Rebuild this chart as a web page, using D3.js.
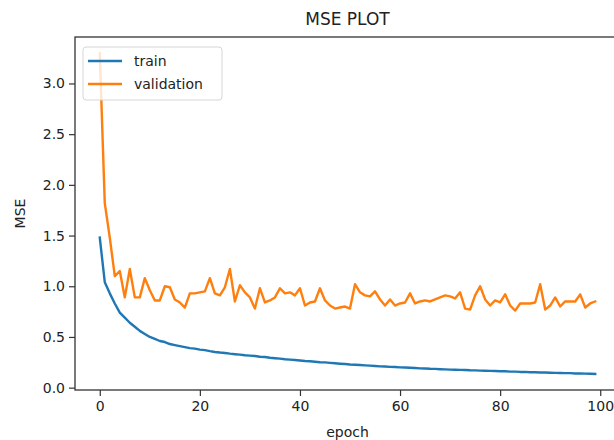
<!DOCTYPE html>
<html lang="en">
<head>
    <meta charset="UTF-8">
    <title>MSE PLOT</title>
    <style>
        body { margin: 0; background: #fff; }
        svg text { font-family: "DejaVu Sans", sans-serif; fill: #222; }
    </style>
</head>
<body>
    <div id="chart"></div>

    <script src="https://d3js.org/d3.v7.min.js"></script>
    <script>
        // Data
        const epochs = d3.range(100);

        const train = [
            1.48, 1.04, 0.93, 0.83, 0.74, 0.69, 0.64, 0.60, 0.56, 0.53,
            0.50, 0.48, 0.46, 0.45, 0.43, 0.42, 0.41, 0.40, 0.39, 0.385,
            0.375, 0.37, 0.36, 0.352, 0.346, 0.342, 0.335, 0.33, 0.326, 0.32,
            0.316, 0.312, 0.305, 0.302, 0.295, 0.29, 0.286, 0.28, 0.276, 0.272,
            0.268, 0.263, 0.26, 0.255, 0.251, 0.249, 0.244, 0.24, 0.236, 0.233,
            0.228, 0.226, 0.223, 0.22, 0.217, 0.214, 0.21, 0.209, 0.205, 0.204,
            0.20, 0.199, 0.196, 0.194, 0.19, 0.189, 0.186, 0.185, 0.182, 0.18,
            0.178, 0.177, 0.175, 0.174, 0.171, 0.17, 0.168, 0.167, 0.165, 0.164,
            0.162, 0.161, 0.158, 0.158, 0.155, 0.155, 0.152, 0.152, 0.15, 0.149,
            0.147, 0.146, 0.145, 0.143, 0.143, 0.14, 0.14, 0.138, 0.137, 0.135
        ];

        const validation = [
            3.30, 1.82, 1.48, 1.10, 1.15, 0.89, 1.17, 0.89, 0.89, 1.08,
            0.96, 0.86, 0.86, 1.00, 0.99, 0.87, 0.84, 0.79, 0.93, 0.93,
            0.94, 0.95, 1.08, 0.93, 0.91, 0.99, 1.17, 0.85, 1.01, 0.94,
            0.89, 0.78, 0.98, 0.84, 0.86, 0.89, 0.98, 0.93, 0.94, 0.91,
            0.98, 0.81, 0.84, 0.85, 0.98, 0.86, 0.81, 0.78, 0.79, 0.80,
            0.78, 1.02, 0.94, 0.91, 0.90, 0.95, 0.87, 0.81, 0.87, 0.81,
            0.83, 0.84, 0.93, 0.83, 0.85, 0.86, 0.85, 0.87, 0.89, 0.91,
            0.90, 0.88, 0.94, 0.78, 0.77, 0.91, 1.00, 0.87, 0.81, 0.86,
            0.84, 0.92, 0.81, 0.76, 0.83, 0.83, 0.83, 0.84, 1.02, 0.77,
            0.81, 0.89, 0.80, 0.85, 0.85, 0.85, 0.92, 0.79, 0.83, 0.85
        ];

        const xTicks = [0, 20, 40, 60, 80, 100];
        const yTicks = [0.0, 0.5, 1.0, 1.5, 2.0, 2.5, 3.0];

        const series = [
            { name: "train", values: train, color: "#1f77b4" },
            { name: "validation", values: validation, color: "#ff7f0e" }
        ];

        const width = 614;
        const height = 440;
        // axes box (right edge runs past the window, as in the picture)
        const axLeft = 75, axRight = 620, axTop = 37, axBottom = 390;

        const svg = d3.select("#chart")
            .append("svg")
            .attr("width", width)
            .attr("height", height);

        // matplotlib style 5% margins
        const xExt = d3.extent(epochs);
        const xPad = (xExt[1] - xExt[0]) * 0.05;
        const allY = train.concat(validation);
        const yExt = d3.extent(allY);
        const yPad = (yExt[1] - yExt[0]) * 0.05;

        const x = d3.scaleLinear()
            .domain([xExt[0] - xPad, xExt[1] + xPad])
            .range([axLeft, axRight]);

        const y = d3.scaleLinear()
            .domain([yExt[0] - yPad, yExt[1] + yPad])
            .range([axBottom, axTop]);

        const line = d3.line()
            .x((d, i) => x(epochs[i]))
            .y(d => y(d));

        svg.selectAll(".series")
            .data(series)
            .enter()
            .append("path")
            .attr("class", "series")
            .attr("d", d => line(d.values))
            .attr("fill", "none")
            .attr("stroke", d => d.color)
            .attr("stroke-width", 2.4)
            .attr("stroke-linejoin", "round")
            .attr("stroke-linecap", "square");

        // axes
        const xAxis = svg.append("g")
            .attr("transform", `translate(0,${axBottom})`)
            .call(d3.axisBottom(x).tickValues(xTicks).tickSize(6).tickPadding(5).tickFormat(d3.format("d")));

        const yAxis = svg.append("g")
            .attr("transform", `translate(${axLeft},0)`)
            .call(d3.axisLeft(y).tickValues(yTicks).tickSize(6).tickPadding(4).tickFormat(d3.format(".1f")));

        [xAxis, yAxis].forEach(g => {
            g.select(".domain").remove();
            g.selectAll("line").attr("stroke", "#333").attr("stroke-width", 1.2);
            g.selectAll("text").style("font-size", "14px").attr("fill", "#222");
        });

        // spines
        svg.append("rect")
            .attr("x", axLeft)
            .attr("y", axTop)
            .attr("width", axRight - axLeft)
            .attr("height", axBottom - axTop)
            .attr("fill", "none")
            .attr("stroke", "#333")
            .attr("stroke-width", 1.3);

        // title and labels
        svg.append("text")
            .attr("x", (axLeft + axRight) / 2)
            .attr("y", 25)
            .attr("text-anchor", "middle")
            .style("font-size", "17px")
            .text("MSE PLOT");

        svg.append("text")
            .attr("x", (axLeft + axRight) / 2)
            .attr("y", 437)
            .attr("text-anchor", "middle")
            .style("font-size", "14px")
            .text("epoch");

        svg.append("text")
            .attr("transform", `translate(25,${(axTop + axBottom) / 2}) rotate(-90)`)
            .attr("text-anchor", "middle")
            .style("font-size", "14px")
            .text("MSE");

        // legend
        const legend = svg.append("g").attr("transform", "translate(83,47)");

        legend.append("rect")
            .attr("width", 139)
            .attr("height", 53)
            .attr("rx", 3)
            .attr("fill", "#fff")
            .attr("fill-opacity", 0.8)
            .attr("stroke", "#d6d6d6")
            .attr("stroke-width", 1);

        const item = legend.selectAll(".item")
            .data(series)
            .enter()
            .append("g")
            .attr("class", "item")
            .attr("transform", (d, i) => `translate(0,${14 + i * 23})`);

        item.append("line")
            .attr("x1", 5)
            .attr("x2", 39)
            .attr("stroke", d => d.color)
            .attr("stroke-width", 2.4);

        item.append("text")
            .attr("x", 51)
            .attr("dy", "0.35em")
            .style("font-size", "14px")
            .text(d => d.name);
    </script>
</body>
</html>
